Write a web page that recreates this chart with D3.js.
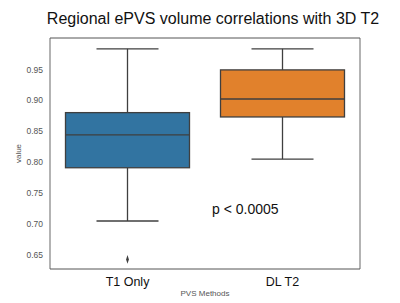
<!DOCTYPE html>
<html>
<head>
<meta charset="utf-8">
<script src="https://cdn.jsdelivr.net/npm/d3@7"></script>
<style>
  body { margin: 0; background: #fff; }
  svg { font-family: "Liberation Sans", Arial, sans-serif; }
</style>
</head>
<body>
<svg width="400" height="303"></svg>
<script>
// Data
const methods = ["T1 Only", "DL T2"];
const lowerWhisker = [0.705, 0.805];
const q1 = [0.791, 0.873];
const median = [0.844, 0.902];
const q3 = [0.880, 0.949];
const upperWhisker = [0.983, 0.983];
const outliers = [[0.643], []];
const colors = ["#3274a1", "#e1812c"];
const yTicks = [0.65, 0.70, 0.75, 0.80, 0.85, 0.90, 0.95];

const width = 400;
const height = 303;
const margin = { top: 38, right: 40, bottom: 34, left: 50 };
const lineColor = "#3f3f3f";

const boxes = methods.map((m, i) => ({
  method: m,
  lo: lowerWhisker[i], q1: q1[i], med: median[i], q3: q3[i], hi: upperWhisker[i],
  out: outliers[i], color: colors[i]
}));

const svg = d3.select("svg");

// Skaler
const x = d3.scaleBand()
  .domain(methods)
  .range([margin.left, width - margin.right])
  .paddingInner(0.2)
  .paddingOuter(0.1);

const y = d3.scaleLinear()
  .domain([0.6275, 1.0005])
  .range([height - margin.bottom, margin.top]);

// Y-akse
const yAxis = svg.append("g")
  .attr("transform", `translate(${margin.left},0)`)
  .call(d3.axisLeft(y).tickValues(yTicks).tickFormat(d3.format(".2f")).tickSize(0).tickPadding(7));
yAxis.select(".domain").remove();
yAxis.selectAll("text").attr("font-size", 8.5).attr("fill", "#555");

// X-akse
const xAxis = svg.append("g")
  .attr("transform", `translate(0,${height - margin.bottom})`)
  .call(d3.axisBottom(x).tickSize(0).tickPadding(8));
xAxis.select(".domain").remove();
xAxis.selectAll("text").attr("font-size", 12.5).attr("fill", "#111").attr("dy", "0.75em");

// Ramme
svg.append("line")
  .attr("x1", margin.left).attr("x2", margin.left)
  .attr("y1", margin.top).attr("y2", height - margin.bottom)
  .attr("stroke", "#b3b3b3").attr("stroke-width", 2);
svg.append("line")
  .attr("x1", width - margin.right).attr("x2", width - margin.right)
  .attr("y1", margin.top).attr("y2", height - margin.bottom)
  .attr("stroke", "#b3b3b3").attr("stroke-width", 2);
svg.append("line")
  .attr("x1", margin.left).attr("x2", width - margin.right)
  .attr("y1", margin.top).attr("y2", margin.top)
  .attr("stroke", "#555").attr("stroke-width", 1);
svg.append("line")
  .attr("x1", margin.left).attr("x2", width - margin.right)
  .attr("y1", height - margin.bottom).attr("y2", height - margin.bottom)
  .attr("stroke", "#555").attr("stroke-width", 1);

// Boxplots
const g = svg.selectAll(".box")
  .data(boxes)
  .join("g")
  .attr("class", "box");

const bw = x.bandwidth();
const cx = d => x(d.method) + bw / 2;

// whiskers
g.append("line")
  .attr("x1", cx).attr("x2", cx)
  .attr("y1", d => y(d.q3)).attr("y2", d => y(d.hi))
  .attr("stroke", lineColor).attr("stroke-width", 1.3);
g.append("line")
  .attr("x1", cx).attr("x2", cx)
  .attr("y1", d => y(d.q1)).attr("y2", d => y(d.lo))
  .attr("stroke", lineColor).attr("stroke-width", 1.3);
// caps
g.append("line")
  .attr("x1", d => cx(d) - bw / 4).attr("x2", d => cx(d) + bw / 4)
  .attr("y1", d => y(d.hi)).attr("y2", d => y(d.hi))
  .attr("stroke", lineColor).attr("stroke-width", 1.3);
g.append("line")
  .attr("x1", d => cx(d) - bw / 4).attr("x2", d => cx(d) + bw / 4)
  .attr("y1", d => y(d.lo)).attr("y2", d => y(d.lo))
  .attr("stroke", lineColor).attr("stroke-width", 1.3);
// box
g.append("rect")
  .attr("x", d => x(d.method))
  .attr("width", bw)
  .attr("y", d => y(d.q3))
  .attr("height", d => y(d.q1) - y(d.q3))
  .attr("fill", d => d.color)
  .attr("stroke", lineColor).attr("stroke-width", 1.3);
// median
g.append("line")
  .attr("x1", d => x(d.method)).attr("x2", d => x(d.method) + bw)
  .attr("y1", d => y(d.med)).attr("y2", d => y(d.med))
  .attr("stroke", lineColor).attr("stroke-width", 1.3);
// outliers
g.selectAll(".out")
  .data(d => d.out.map(v => ({ v, c: cx(d) })))
  .join("path")
  .attr("class", "out")
  .attr("d", d3.symbol(d3.symbolDiamond, 12))
  .attr("transform", d => `translate(${d.c},${y(d.v)}) scale(0.75,1.35)`)
  .attr("fill", lineColor);

// Tekster
svg.append("text")
  .attr("x", 213).attr("y", 24)
  .attr("text-anchor", "middle")
  .attr("font-size", 16)
  .attr("fill", "#111")
  .text("Regional ePVS volume correlations with 3D T2");

svg.append("text")
  .attr("x", 212).attr("y", 214)
  .attr("font-size", 14)
  .attr("fill", "#111")
  .text("p < 0.0005");

svg.append("text")
  .attr("x", (margin.left + width - margin.right) / 2).attr("y", 296)
  .attr("text-anchor", "middle")
  .attr("font-size", 8)
  .attr("fill", "#555")
  .text("PVS Methods");

svg.append("text")
  .attr("transform", `translate(21,${(margin.top + height - margin.bottom) / 2}) rotate(-90)`)
  .attr("text-anchor", "middle")
  .attr("font-size", 8)
  .attr("fill", "#555")
  .text("value");
</script>
</body>
</html>
